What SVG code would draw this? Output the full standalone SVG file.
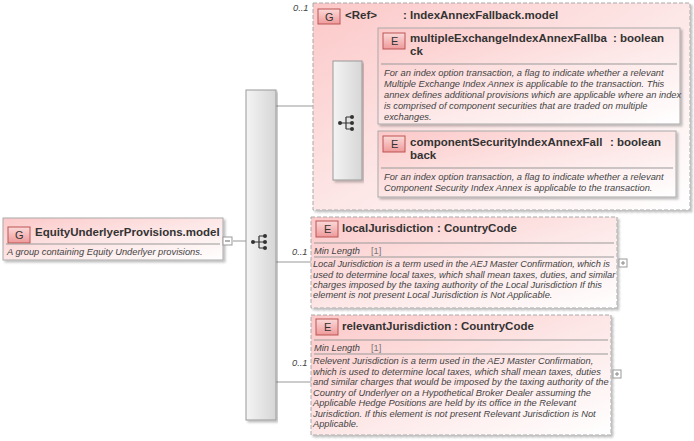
<svg xmlns="http://www.w3.org/2000/svg" width="694" height="441" viewBox="0 0 694 441">
<defs>
<linearGradient id="pink" x1="0" y1="0" x2="1" y2="1"><stop offset="0" stop-color="#fcc8c8"/><stop offset="0.5" stop-color="#fde6e6"/><stop offset="1" stop-color="#ffffff"/></linearGradient>
<linearGradient id="grey" x1="0" y1="0" x2="1" y2="0"><stop offset="0" stop-color="#f4f4f4"/><stop offset="1" stop-color="#d6d6d6"/></linearGradient>
<linearGradient id="badge" x1="0" y1="0" x2="0" y2="1"><stop offset="0" stop-color="#fbd9d9"/><stop offset="1" stop-color="#ef9a9a"/></linearGradient>
<filter id="sh" x="-5%" y="-5%" width="110%" height="115%"><feDropShadow dx="2" dy="2" stdDeviation="1.2" flood-color="#000" flood-opacity="0.25"/></filter>
<g id="seqicon"><circle cx="-9" cy="0" r="2" fill="#333"/><path d="M-9 0H-3M-3 -6V6M-3 -6H3M-3 0H3M-3 6H3" stroke="#333" stroke-width="1.2" fill="none"/><circle cx="3" cy="-6" r="2" fill="#333"/><circle cx="3" cy="0" r="2" fill="#333"/><circle cx="3" cy="6" r="2" fill="#333"/></g>
</defs>
<style>
text{font-family:"Liberation Sans",Arial,sans-serif;fill:#333}
.t{font-size:11.5px;font-weight:bold}
.d{font-size:9.3px;font-style:italic;fill:#444}
.o{font-size:9.3px;font-style:italic;fill:#444}
.b{font-size:11px;fill:#333}
.box{fill:url(#pink);stroke:#aaa;filter:url(#sh)}
.dash{fill:url(#pink);stroke:#aaa;stroke-dasharray:4 2;filter:url(#sh)}
.bd{fill:url(#badge);stroke:#b55}
.sep{stroke:#999;stroke-width:1}
.ln{stroke:#999;fill:none}
.bar{fill:url(#grey);stroke:#999;filter:url(#sh)}
.pl{fill:#fff;stroke:#999}
</style>
<g id="connectors">
<path class="ln" d="M233 241H246M276 106H313M276 262H311M276 382H311M362 75H378M362 164H378"/>
</g>
<g id="root">
<rect class="box" x="3" y="218" width="220" height="42"/>
<rect class="bd" x="8" y="227" width="22" height="16"/>
<text class="b" x="15" y="239">G</text>
<text class="t" x="35" y="236">EquityUnderlyerProvisions.model</text>
<line class="sep" x1="6" y1="244" x2="220" y2="244"/>
<text class="d" x="7" y="255">A group containing Equity Underlyer provisions.</text>
<rect class="pl" x="223" y="237" width="9" height="8"/>
<line x1="225" y1="241" x2="230" y2="241" stroke="#666"/>
</g>
<g id="seq1">
<rect class="bar" x="246" y="90" width="30" height="330"/>
<use href="#seqicon" x="262" y="242"/>
</g>
<g id="refgroup">
<rect class="dash" x="313" y="3" width="377" height="207"/>
<text class="o" x="293" y="11">0..1</text>
<rect class="bd" x="318" y="9" width="22" height="15"/>
<text class="b" x="325" y="21">G</text>
<text class="t" x="345" y="19">&lt;Ref&gt;</text>
<text class="t" x="403" y="19">: IndexAnnexFallback.model</text>
</g>
<g id="seq2">
<rect class="bar" x="333" y="61" width="29" height="119"/>
<use href="#seqicon" x="349" y="123"/>
</g>
<g id="multipleExchange">
<rect class="box" x="378" y="28" width="302" height="96"/>
<rect class="bd" x="383" y="33" width="22" height="16"/>
<text class="b" x="391" y="45">E</text>
<text class="t" x="410" y="42">multipleExchangeIndexAnnexFallba</text>
<text class="t" x="613" y="42">: boolean</text>
<text class="t" x="410" y="55">ck</text>
<line class="sep" x1="381" y1="64" x2="677" y2="64"/>
<text class="d" x="384" y="76">For an index option transaction, a flag to indicate whether a relevant</text>
<text class="d" x="384" y="87">Multiple Exchange Index Annex is applicable to the transaction. This</text>
<text class="d" x="384" y="98">annex defines additional provisions which are applicable where an index</text>
<text class="d" x="384" y="109">is comprised of component securities that are traded on multiple</text>
<text class="d" x="384" y="120">exchanges.</text>
</g>
<g id="componentSecurity">
<rect class="box" x="378" y="131" width="298" height="66"/>
<rect class="bd" x="383" y="136" width="22" height="16"/>
<text class="b" x="391" y="148">E</text>
<text class="t" x="410" y="146">componentSecurityIndexAnnexFall</text>
<text class="t" x="610" y="146">: boolean</text>
<text class="t" x="410" y="159">back</text>
<line class="sep" x1="381" y1="168" x2="673" y2="168"/>
<text class="d" x="384" y="180">For an index option transaction, a flag to indicate whether a relevant</text>
<text class="d" x="384" y="191">Component Security Index Annex is applicable to the transaction.</text>
</g>
<g id="localJurisdiction">
<rect class="dash" x="311" y="217" width="306" height="91"/>
<rect class="bd" x="316" y="221" width="22" height="16"/>
<text class="b" x="324" y="233">E</text>
<text class="t" x="342" y="232">localJurisdiction</text>
<text class="t" x="437" y="232">: CountryCode</text>
<line class="sep" x1="314" y1="243" x2="614" y2="243"/>
<text class="o" x="292" y="255">0..1</text>
<text class="d" x="314" y="254">Min Length</text>
<text class="d" x="371" y="254" style="font-style:normal;fill:#777">[1]</text>
<line class="sep" x1="314" y1="257" x2="614" y2="257"/>
<text class="d" x="313" y="267" textLength="297">Local Jurisdiction is a term used in the AEJ Master Confirmation, which is</text>
<text class="d" x="313" y="278">used to determine local taxes, which shall mean taxes, duties, and similar</text>
<text class="d" x="313" y="288">charges imposed by the taxing authority of the Local Jurisdiction If this</text>
<text class="d" x="313" y="298">element is not present Local Jurisdiction is Not Applicable.</text>
<rect class="pl" x="619" y="259" width="8" height="8"/>
<path d="M621 263H625M623 261V265" stroke="#888"/>
</g>
<g id="relevantJurisdiction">
<rect class="dash" x="311" y="315" width="300" height="120"/>
<rect class="bd" x="316" y="319" width="22" height="16"/>
<text class="b" x="324" y="331">E</text>
<text class="t" x="342" y="330">relevantJurisdiction</text>
<text class="t" x="454" y="330">: CountryCode</text>
<line class="sep" x1="314" y1="340" x2="608" y2="340"/>
<text class="d" x="314" y="351">Min Length</text>
<text class="d" x="371" y="351" style="font-style:normal;fill:#777">[1]</text>
<line class="sep" x1="314" y1="354" x2="608" y2="354"/>
<text class="o" x="292" y="366">0..1</text>
<text class="d" x="313" y="364">Relevent Jurisdiction is a term used in the AEJ Master Confirmation,</text>
<text class="d" x="313" y="375">which is used to determine local taxes, which shall mean taxes, duties</text>
<text class="d" x="313" y="385">and similar charges that would be imposed by the taxing authority of the</text>
<text class="d" x="313" y="396">Country of Underlyer on a Hypothetical Broker Dealer assuming the</text>
<text class="d" x="313" y="406">Applicable Hedge Positions are held by its office in the Relevant</text>
<text class="d" x="313" y="417">Jurisdiction. If this element is not present Relevant Jurisdiction is Not</text>
<text class="d" x="313" y="427">Applicable.</text>
<rect class="pl" x="613" y="370" width="8" height="8"/>
<path d="M615 374H619M617 372V376" stroke="#888"/>
</g>
</svg>
